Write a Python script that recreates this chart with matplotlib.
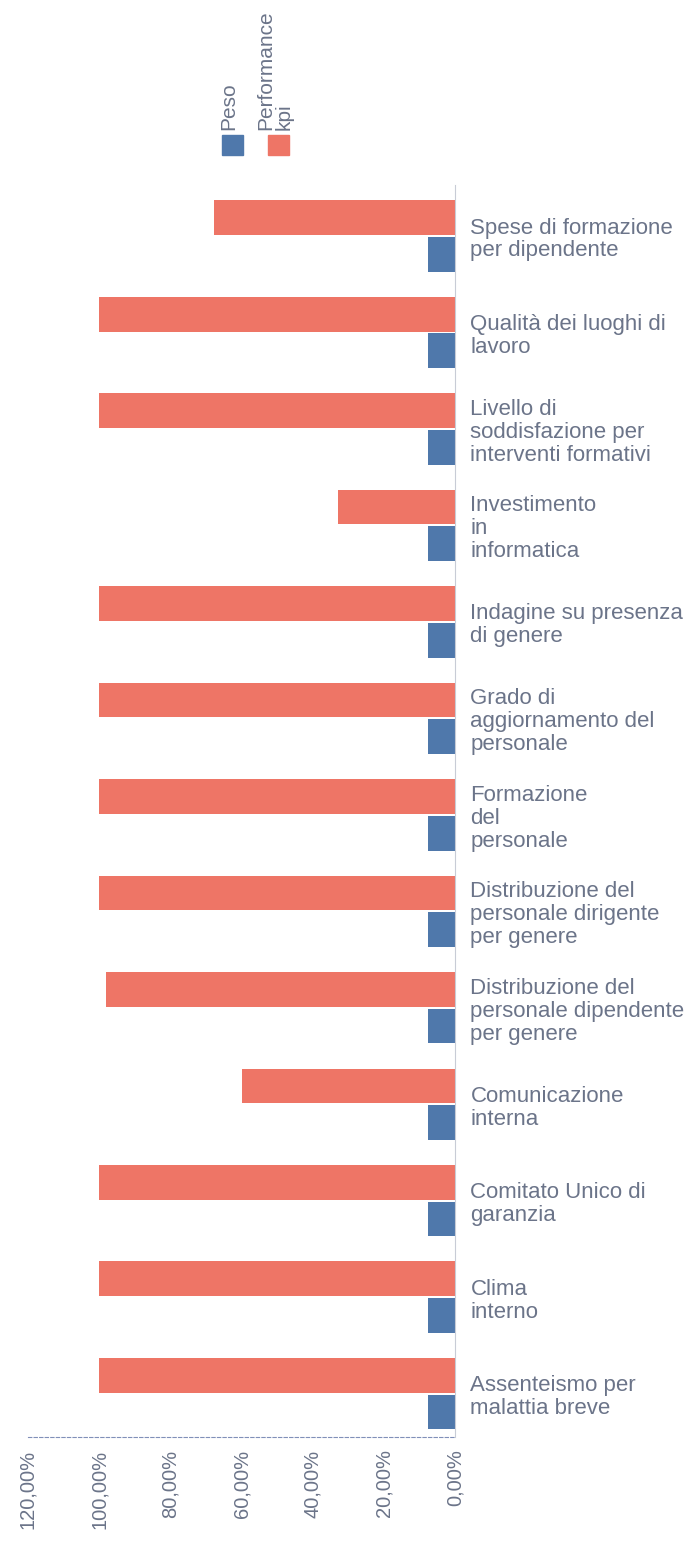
import numpy as np
import matplotlib.pyplot as plt
from matplotlib.patches import Rectangle

# Data
categories = [
    "Spese di formazione\nper dipendente",
    "Qualità dei luoghi di\nlavoro",
    "Livello di\nsoddisfazione per\ninterventi formativi",
    "Investimento\nin\ninformatica",
    "Indagine su presenza\ndi genere",
    "Grado di\naggiornamento del\npersonale",
    "Formazione\ndel\npersonale",
    "Distribuzione del\npersonale dirigente\nper genere",
    "Distribuzione del\npersonale dipendente\nper genere",
    "Comunicazione\ninterna",
    "Comitato Unico di\ngaranzia",
    "Clima\ninterno",
    "Assenteismo per\nmalattia breve",
]
performance = [67.7, 100, 100, 33, 100, 100, 100, 100, 98, 60, 100, 100, 100]
peso = [7.69] * 13
xticks = [0, 20, 40, 60, 80, 100, 120]
xtick_labels = ["0,00%", "20,00%", "40,00%", "60,00%", "80,00%", "100,00%", "120,00%"]

RED = "#ee7566"
BLUE = "#4f78ab"
TEXT = "#6b7489"

plt.rcParams['font.family'] = ['Liberation Sans', 'DejaVu Sans']

fig = plt.figure(figsize=(6.97, 15.41), dpi=100)
ax = fig.add_axes([0.040, 0.0675, 0.613, 0.8125])

y = np.arange(len(categories))
ax.barh(y - 0.19, performance, height=0.36, color=RED, edgecolor="none")
ax.barh(y + 0.19, peso, height=0.36, color=BLUE, edgecolor="none")

ax.set_xlim(120, 0)
ax.set_ylim(12.45, -0.53)

ax.set_xticks(xticks)
ax.set_xticklabels(xtick_labels, rotation=90, fontsize=14.5, color=TEXT, va="top")
ax.tick_params(axis="x", length=0, pad=9)

ax.yaxis.tick_right()
ax.set_yticks(y)
ax.set_yticklabels(categories, fontsize=16, color=TEXT, linespacing=1.12, ha="left")
ax.tick_params(axis="y", length=0, pad=11)

for s in ["top", "left"]:
    ax.spines[s].set_visible(False)
ax.spines["right"].set_color("#c8ccd6")
ax.spines["right"].set_linewidth(0.8)
ax.spines["bottom"].set_color("#8090b8")
ax.spines["bottom"].set_linestyle((0, (3, 2)))
ax.spines["bottom"].set_linewidth(0.8)

# rotated legend at the top
W, H = 697, 1541
fig.patches.append(Rectangle((222 / W, (H - 155) / H), 21 / W, 20 / H,
                             transform=fig.transFigure, color=BLUE))
fig.patches.append(Rectangle((268 / W, (H - 155) / H), 21 / W, 20 / H,
                             transform=fig.transFigure, color=RED))
fig.text(229 / W, (H - 130) / H, "Peso", rotation=90, fontsize=15,
         color=TEXT, ha="center", va="bottom")
fig.text(275 / W, (H - 130) / H, "Performance\nkpi", rotation=90, fontsize=15,
         color=TEXT, ha="center", va="bottom", multialignment="left",
         linespacing=0.95)

fig.savefig("out.png", dpi=100)
